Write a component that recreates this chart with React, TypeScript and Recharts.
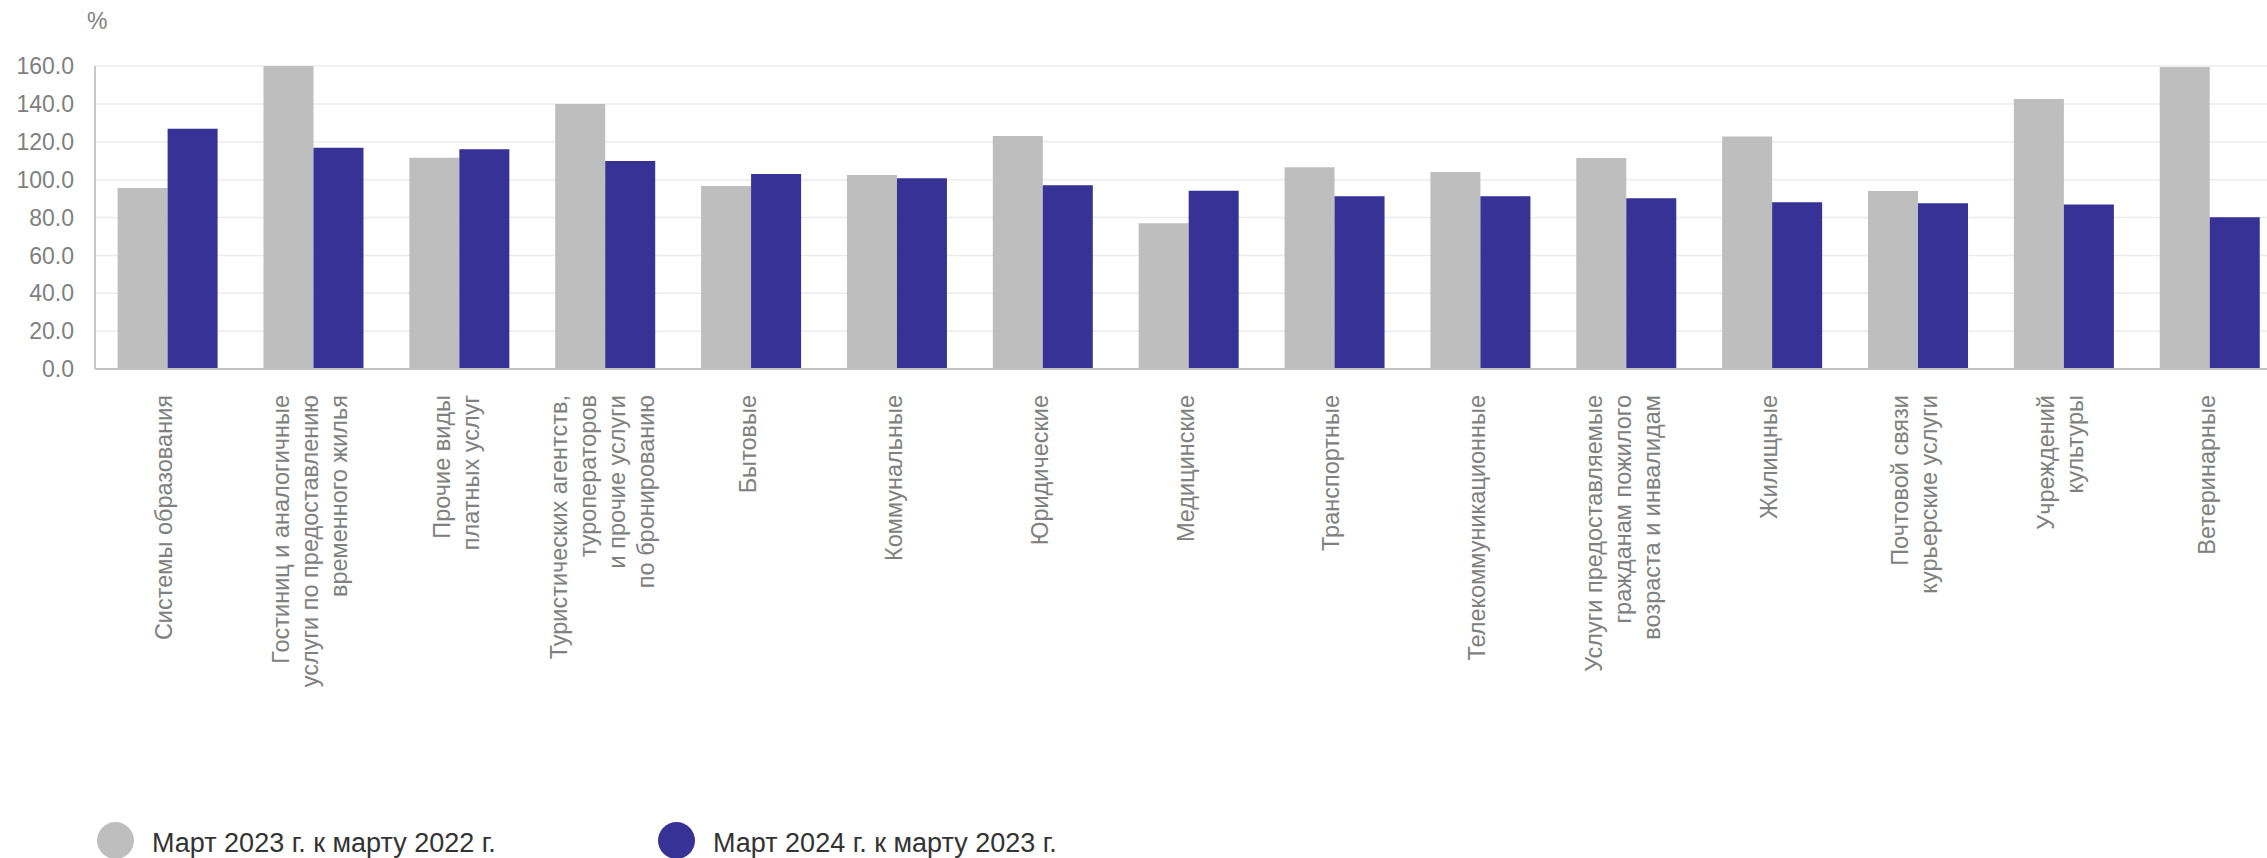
import { BarChart, Bar, XAxis, YAxis, CartesianGrid, Legend } from 'recharts'

const FONT = '"Liberation Sans", Arial, sans-serif'

const categories = [
  'Системы образования',
  'Гостиниц и аналогичные\nуслуги по предоставлению\nвременного жилья',
  'Прочие виды\nплатных услуг',
  'Туристических агентств,\nтуроператоров\nи прочие услуги\nпо бронированию',
  'Бытовые',
  'Коммунальные',
  'Юридические',
  'Медицинские',
  'Транспортные',
  'Телекоммуникационные',
  'Услуги предоставляемые\nгражданам пожилого\nвозраста и инвалидам',
  'Жилищные',
  'Почтовой связи\nкурьерские услуги',
  'Учреждений\nкультуры',
  'Ветеринарные',
]

// Март 2023 г. к марту 2022 г.
const march2023 = [95.6, 168.0, 111.6, 139.9, 96.6, 102.4, 123.0, 76.9, 106.5, 104.0, 111.4, 122.8, 94.0, 142.6, 159.5]
// Март 2024 г. к марту 2023 г.
const march2024 = [126.9, 116.8, 116.0, 109.8, 103.0, 100.7, 97.0, 94.1, 91.2, 91.2, 90.1, 88.0, 87.5, 86.9, 80.1]

const yTicks = [0, 20, 40, 60, 80, 100, 120, 140, 160]

const seriesNames = ['Март 2023 г. к марту 2022 г.', 'Март 2024 г. к марту 2023 г.']
const seriesColors = ['#bebebe', '#363296']

const data = categories.map((name, i) => ({
  name,
  march2023: march2023[i],
  march2024: march2024[i],
}))

const LINE_HEIGHT = 29

function CategoryTick(props: any) {
  const { x, y, payload } = props
  const lines: string[] = String(payload.value).split('\n')
  const firstDy = 4.5 - ((lines.length - 1) * LINE_HEIGHT) / 2
  return (
    <g transform={`translate(${x},${y})`}>
      <text
        transform="rotate(-90)"
        textAnchor="end"
        fill="#808080"
        fontSize={23.5}
        fontFamily={FONT}
      >
        {lines.map((line, i) => (
          <tspan key={i} x={0} dy={i === 0 ? firstDy : LINE_HEIGHT}>
            {line}
          </tspan>
        ))}
      </text>
    </g>
  )
}

function LegendContent() {
  return (
    <div style={{ display: 'flex', paddingLeft: 97, fontFamily: FONT }}>
      {seriesNames.map((name, i) => (
        <div key={name} style={{ display: 'flex', alignItems: 'flex-start', width: 561 }}>
          <div
            style={{
              width: 37,
              height: 37,
              borderRadius: '50%',
              background: seriesColors[i],
              marginRight: 18,
              flexShrink: 0,
            }}
          />
          <span style={{ fontSize: 27, color: '#333333', lineHeight: '37px', paddingTop: 3, whiteSpace: 'nowrap' }}>
            {name}
          </span>
        </div>
      ))}
    </div>
  )
}

export default function App() {
  return (
    <div
      style={{
        position: 'absolute',
        left: 0,
        top: 0,
        width: 2267,
        height: 858,
        overflow: 'hidden',
        background: '#ffffff',
        fontFamily: FONT,
      }}
    >
      <BarChart
        width={2290}
        height={858}
        data={data}
        margin={{ top: 66, right: 7, left: 0, bottom: 449 }}
        barCategoryGap="15.5%"
        barGap={0}
      >
        <CartesianGrid vertical={false} stroke="#ececec" strokeWidth={1.5} />
        <XAxis
          dataKey="name"
          interval={0}
          height={40}
          tick={<CategoryTick />}
          tickLine={false}
          tickSize={0}
          tickMargin={26}
          axisLine={{ stroke: '#c4c4c4', strokeWidth: 2 }}
        />
        <YAxis
          width={95}
          domain={[0, 160]}
          allowDataOverflow
          ticks={yTicks}
          tickFormatter={(v: number) => v.toFixed(1)}
          tickLine={false}
          tickSize={0}
          tickMargin={21}
          axisLine={{ stroke: '#c8c8c8', strokeWidth: 2 }}
          tick={{ fill: '#7f7f7f', fontSize: 23, fontFamily: FONT }}
          label={{
            content: ({ viewBox }: any) => (
              <text
                x={viewBox.x + viewBox.width - 8}
                y={viewBox.y - 37}
                fill="#7f7f7f"
                fontSize={23}
                fontFamily={FONT}
              >
                %
              </text>
            ),
          }}
        />
        <Legend
          layout="horizontal"
          verticalAlign="middle"
          align="center"
          content={<LegendContent />}
          wrapperStyle={{ left: 0, top: 822, width: 1300, height: 40 }}
        />
        <Bar dataKey="march2023" name={seriesNames[0]} fill={seriesColors[0]} isAnimationActive={false} />
        <Bar dataKey="march2024" name={seriesNames[1]} fill={seriesColors[1]} isAnimationActive={false} />
      </BarChart>
    </div>
  )
}
